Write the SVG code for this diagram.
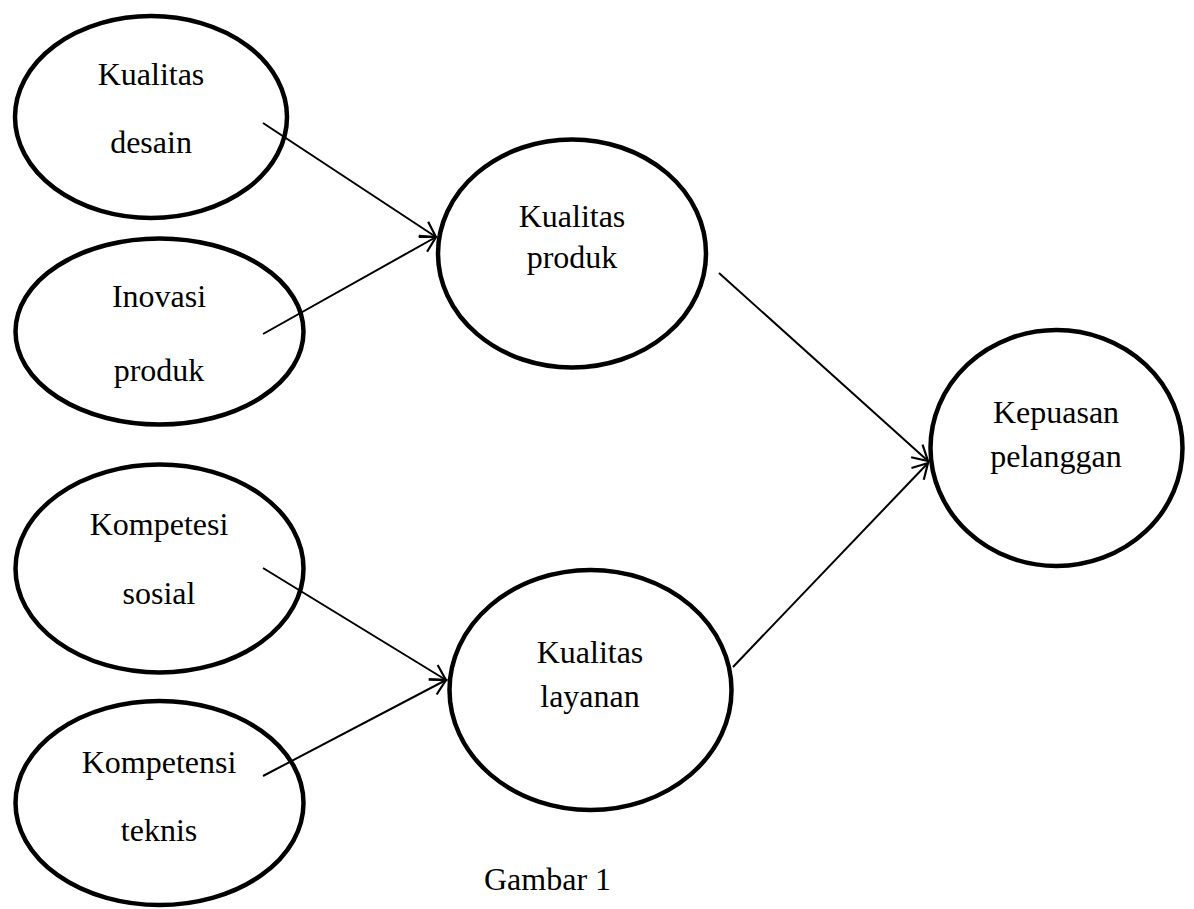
<svg xmlns="http://www.w3.org/2000/svg" width="1194" height="909" viewBox="0 0 1194 909">
<style>
.node ellipse{fill:#fff;stroke:#000;stroke-width:4.5}
.node text,.cap{font-family:"Liberation Serif","Times New Roman",serif;font-size:32px;fill:#000;text-anchor:middle}
.edges line{stroke:#000;stroke-width:2;marker-end:url(#arr)}
</style>
<defs>
<marker id="arr" markerUnits="userSpaceOnUse" markerWidth="24" markerHeight="24" viewBox="-18 -12 24 24" refX="0" refY="0" orient="auto">
<path d="M-15,-8.5 L0,0 L-15,8.5" fill="none" stroke="#000" stroke-width="2.2"/>
</marker>
</defs>
<rect width="1194" height="909" fill="#fff"/>
<g id="n-desain" class="node"><ellipse cx="151" cy="117" rx="136" ry="101"/><text x="151" y="85">Kualitas</text><text x="151" y="153">desain</text></g>
<g id="n-inovasi" class="node"><ellipse cx="159.5" cy="331.5" rx="144" ry="93"/><text x="159" y="307">Inovasi</text><text x="159" y="381">produk</text></g>
<g id="n-sosial" class="node"><ellipse cx="159.5" cy="568.5" rx="144" ry="104"/><text x="159" y="535">Kompetesi</text><text x="159" y="604">sosial</text></g>
<g id="n-teknis" class="node"><ellipse cx="159.5" cy="803" rx="144" ry="102"/><text x="159" y="773">Kompetensi</text><text x="159" y="841">teknis</text></g>
<g id="n-produk" class="node"><ellipse cx="572" cy="253.5" rx="134" ry="114"/><text x="572" y="227">Kualitas</text><text x="572" y="268">produk</text></g>
<g id="n-layanan" class="node"><ellipse cx="590.5" cy="690" rx="141" ry="120"/><text x="590" y="663">Kualitas</text><text x="590" y="707">layanan</text></g>
<g id="n-kepuasan" class="node"><ellipse cx="1056.5" cy="448" rx="126" ry="118"/><text x="1056" y="423">Kepuasan</text><text x="1056" y="467">pelanggan</text></g>
<g id="edges" class="edges">
<line x1="263" y1="123" x2="436" y2="237"/>
<line x1="263" y1="334" x2="436" y2="237"/>
<line x1="263" y1="568" x2="446" y2="680"/>
<line x1="263" y1="776" x2="446" y2="680"/>
<line x1="719" y1="273" x2="928" y2="461"/>
<line x1="733" y1="667" x2="928" y2="463"/>
</g>
<text class="cap" x="547.5" y="890">Gambar 1</text>
</svg>
